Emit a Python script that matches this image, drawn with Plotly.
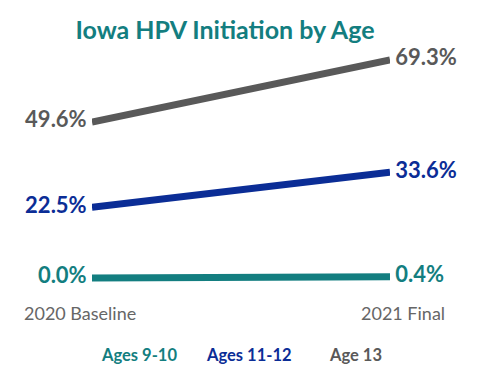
import plotly.graph_objects as go

periods = ["2020 Baseline", "2021 Final"]
series_names = ["Ages 9-10", "Ages 11-12", "Age 13"]
ages_9_10 = [0.0, 0.4]
ages_11_12 = [22.5, 33.6]
age_13 = [49.6, 69.3]
colors = ["#137E80", "#0B2D96", "#595959"]

FONT = "Lato"
NB = "\u00a0"
fig = go.Figure()
xs = [0, 1]
for name, vals, col in zip(series_names, [ages_9_10, ages_11_12, age_13], colors):
    fig.add_trace(go.Scatter(
        x=xs, y=vals, mode="lines+text", name=name,
        line=dict(color=col, width=7),
        text=[f"{vals[0]:.1f}%{NB}", f"{NB}{vals[1]:.1f}%"],
        textposition=["middle left", "middle right"],
        textfont=dict(family=FONT, size=22, color=col, weight="bold"),
        cliponaxis=False, showlegend=False, hoverinfo="skip",
    ))

# period labels
fig.add_annotation(x=0, y=0, xref="x", yref="y", text=periods[0], showarrow=False,
                   xanchor="left", yanchor="top", xshift=-70, yshift=-22,
                   font=dict(family=FONT, size=18, color="#666666"))
fig.add_annotation(x=1, y=0, xref="x", yref="y", text=periods[1], showarrow=False,
                   xanchor="right", yanchor="top", xshift=57, yshift=-22,
                   font=dict(family=FONT, size=18, color="#666666"))

# legend as coloured text
legend_x = [0.1577, 0.527, 0.8826]
for name, col, px in zip(series_names, colors, legend_x):
    fig.add_annotation(x=px, y=-0.2115, xref="paper", yref="paper",
                       text=name, showarrow=False, xanchor="center", yanchor="middle",
                       font=dict(family=FONT, size=16.5, color=col, weight="bold"))

fig.update_layout(
    width=500, height=375,
    margin=dict(l=84, r=118, t=32, b=83),
    paper_bgcolor="white", plot_bgcolor="white",
    title=dict(text="Iowa HPV Initiation by Age", x=217 / 500, xanchor="center",
               y=1 - 22 / 375, yanchor="middle",
               font=dict(family=FONT, size=25, color="#137E80", weight="bold")),
    xaxis=dict(range=[0, 1], visible=False, fixedrange=True),
    yaxis=dict(range=[-7.0, 75.65], visible=False, fixedrange=True),
    showlegend=False,
)

fig.write_html("out.html")
